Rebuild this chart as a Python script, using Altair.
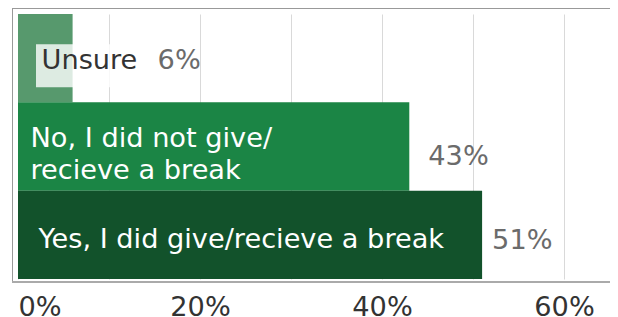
import json
import altair as alt
import pandas as pd

# ---- data ----
categories = ["Unsure", "No", "Yes"]
values = [0.06, 0.43, 0.51]
inner_labels = ["Unsure", "No, I did not give/\nrecieve a break", "Yes, I did give/recieve a break"]
pct_labels = ["6%", "43%", "51%"]
bar_colors = ["#57996D", "#1B8545", "#12522B"]
tick_values = [0, 0.1, 0.2, 0.3, 0.4, 0.5, 0.6]
tick_labels = ["0%", "20%", "40%", "60%"]

df = pd.DataFrame({"cat": categories, "value": values,
                   "inner": inner_labels, "pct": pct_labels})

FONT = "DejaVu Sans"
FS = 27.2
W, H = 592, 265
XMAX = W / 910.0

label_expr = "indexof(%s, datum.label) >= 0 ? datum.label : ''" % json.dumps(tick_labels).replace('"', "'")

x_enc = alt.X("value:Q",
              scale=alt.Scale(domain=[0, XMAX], nice=False, zero=True),
              axis=alt.Axis(values=tick_values, format=".0%", labelExpr=label_expr,
                            grid=True, gridColor="#d9d9d9", gridWidth=1,
                            domain=False, ticks=False, tickSize=0,
                            labelPadding=15, labelFontSize=FS, labelFont=FONT,
                            labelColor="#333333", labelFlush=True, title=None))
y_enc = alt.Y("cat:N", sort=categories,
              scale=alt.Scale(paddingInner=0, paddingOuter=0), axis=None)

base = alt.Chart(df)

bars = base.mark_bar().encode(
    x=x_enc, y=y_enc,
    color=alt.Color("cat:N", scale=alt.Scale(domain=categories, range=bar_colors), legend=None),
)

box = base.transform_filter("datum.cat == 'Unsure'").mark_bar(
    color="white", opacity=0.8, height=43, yOffset=7.5, xOffset=18, x2Offset=92
).encode(x=alt.datum(0), x2=alt.datum(0), y=y_enc)

inner_style = {
    "Unsure": dict(dx=23.5, dy=11.3, color="#333333"),
    "No": dict(dx=12.5, dy=0.7, color="white"),
    "Yes": dict(dx=20.5, dy=12.8, color="white"),
}
pct_style = {
    "Unsure": dict(dx=85, dy=11),
    "No": dict(dx=19, dy=18),
    "Yes": dict(dx=10, dy=14.5),
}

layers = [bars, box]
for cat in categories:
    s = inner_style[cat]
    layers.append(
        base.transform_filter(f"datum.cat == '{cat}'").mark_text(
            align="left", baseline="alphabetic", font=FONT, fontSize=FS,
            lineBreak="\n", lineHeight=31.6, **s
        ).encode(x=alt.datum(0), y=y_enc, text="inner:N")
    )
for cat in categories:
    s = pct_style[cat]
    layers.append(
        base.transform_filter(f"datum.cat == '{cat}'").mark_text(
            align="left", baseline="alphabetic", font=FONT, fontSize=FS,
            color="#6b6b6b", **s
        ).encode(x="value:Q", y=y_enc, text="pct:N")
    )

frame_df = pd.DataFrame({"k": [0]})
frame = alt.Chart(frame_df)
top_line = frame.mark_rule(color="#999999", strokeWidth=1).encode(
    x=alt.value(-6), x2=alt.value(W), y=alt.value(-5.5))
left_line = frame.mark_rule(color="#999999", strokeWidth=1).encode(
    x=alt.value(-5.5), y=alt.value(-6), y2=alt.value(H + 3))
bottom_line = frame.mark_rule(color="#aaaaaa", strokeWidth=2).encode(
    x=alt.value(-6), x2=alt.value(W), y=alt.value(H + 3))
layers += [top_line, left_line, bottom_line]

chart = alt.layer(*layers).properties(
    width=W, height=H,
    padding={"left": 10, "top": 6, "right": 0, "bottom": 38},
    autosize=alt.AutoSizeParams(type="none"),
    background="white",
).configure_view(stroke=None)

chart.save("out.html", embed_options={"renderer": "svg", "actions": False})
